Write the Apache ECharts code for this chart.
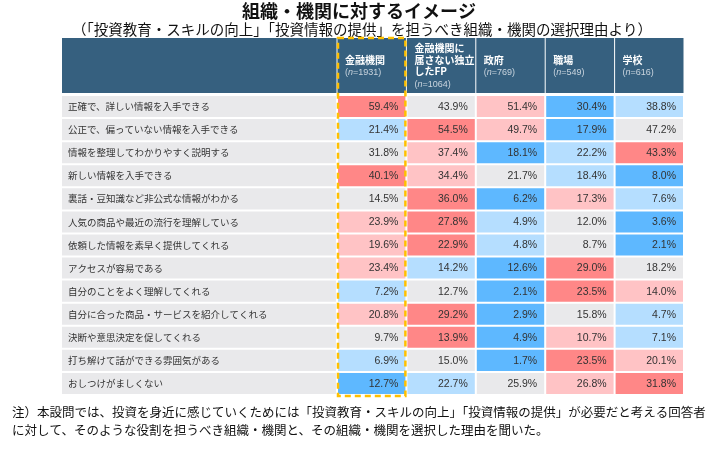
<!DOCTYPE html>
<html><head><meta charset="utf-8">
<script src="https://cdn.jsdelivr.net/npm/echarts@6/dist/echarts.min.js"></script>
<style>html,body{margin:0;padding:0;background:#fff}#c{width:718px;height:449px}</style>
</head><body><div id="c"></div>
<script>
// ---- data ----
const columns = ['金融機関', '金融機関に\n属さない独立\nしたFP', '政府', '職場', '学校'];
const sampleSizes = ['1931', '1064', '769', '549', '616'];
const reasons = [
  '正確で、詳しい情報を入手できる',
  '公正で、偏っていない情報を入手できる',
  '情報を整理してわかりやすく説明する',
  '新しい情報を入手できる',
  '裏話・豆知識など非公式な情報がわかる',
  '人気の商品や最近の流行を理解している',
  '依頼した情報を素早く提供してくれる',
  'アクセスが容易である',
  '自分のことをよく理解してくれる',
  '自分に合った商品・サービスを紹介してくれる',
  '決断や意思決定を促してくれる',
  '打ち解けて話ができる雰囲気がある',
  'おしつけがましくない'
];
const valKinyu   = [59.4, 21.4, 31.8, 40.1, 14.5, 23.9, 19.6, 23.4, 7.2, 20.8, 9.7, 6.9, 12.7];
const valFP      = [43.9, 54.5, 37.4, 34.4, 36.0, 27.8, 22.9, 14.2, 12.7, 29.2, 13.9, 15.0, 22.7];
const valSeifu   = [51.4, 49.7, 18.1, 21.7, 6.2, 4.9, 4.8, 12.6, 2.1, 2.9, 4.9, 1.7, 25.9];
const valShokuba = [30.4, 17.9, 22.2, 18.4, 17.3, 12.0, 8.7, 29.0, 23.5, 15.8, 10.7, 23.5, 26.8];
const valGakko   = [38.8, 47.2, 43.3, 8.0, 7.6, 3.6, 2.1, 18.2, 14.0, 4.7, 7.1, 20.1, 31.8];
// highlight level of each cell (2 = strong high, 1 = high, 0 = neutral, -1 = low, -2 = strong low)
const lvKinyu   = [2, -1, 0, 2, 0, 1, 1, 1, -1, 1, 0, -1, -2];
const lvFP      = [0, 2, 1, 1, 2, 2, 2, -1, 0, 2, 2, 0, -1];
const lvSeifu   = [1, 1, -2, 0, -2, -1, -1, -2, -2, -2, -2, -2, 0];
const lvShokuba = [-2, -2, -1, -1, 1, 0, 0, 2, 2, 0, 1, 2, 1];
const lvGakko   = [-1, 0, 2, -2, -1, -2, -2, 0, 1, -1, -1, 1, 2];

const allVals = [valKinyu, valFP, valSeifu, valShokuba, valGakko];
const allLvs = [lvKinyu, lvFP, lvSeifu, lvShokuba, lvGakko];
const levelColor = { '2': '#FF8787', '1': '#FFC3C5', '0': '#E9E9EB', '-1': '#B5DEFF', '-2': '#5EB8FF' };
const HEAD = '#36607F';
const JP = '"Noto Sans CJK JP", "Noto Sans", sans-serif';
const NUM = '"Liberation Sans", Arial, sans-serif';

const bodyData = [];
allVals.forEach((col, c) => col.forEach((v, r) => bodyData.push([c, r, v, allLvs[c][r]])));
const labelData = reasons.map((t, r) => [0, r]);
const headData = columns.map((t, c) => [c, 0]);

const chart = echarts.init(document.getElementById('c'), null, { renderer: 'canvas' });
const hiddenCat = (data, gi, inverse) => ({ type: 'category', data, gridIndex: gi, show: false, inverse: !!inverse });

chart.setOption({
  animation: false,
  backgroundColor: '#fff',
  grid: [
    { left: 337, top: 38, width: 347, height: 55 },   // header data cols
    { left: 62, top: 38, width: 275, height: 55 },    // header label col
    { left: 62, top: 95, width: 275, height: 300 },   // body labels
    { left: 337, top: 95, width: 347, height: 300 },  // body data
    { left: 337, top: 38, width: 347, height: 358 }   // dashed highlight
  ],
  xAxis: [
    hiddenCat(columns, 0), hiddenCat([''], 1), hiddenCat([''], 2), hiddenCat(columns, 3), hiddenCat(columns, 4)
  ],
  yAxis: [
    hiddenCat([''], 0), hiddenCat([''], 1), hiddenCat(reasons, 2, true), hiddenCat(reasons, 3, true), hiddenCat([''], 4)
  ],
  graphic: [
    { type: 'text', left: 'center', top: 2, style: { text: '組織・機関に対するイメージ', font: 'bold 18px ' + JP, fill: '#111' } },
    { type: 'text', left: 72, top: 22, style: { text: '（「投資教育・スキルの向上」「投資情報の提供」を担うべき組織・機関の選択理由より）', font: '14.5px ' + JP, fill: '#111' } },
    { type: 'text', left: 12, top: 406, style: { text: '注）本設問では、投資を身近に感じていくためには「投資教育・スキルの向上」「投資情報の提供」が必要だと考える回答者', font: '12.5px ' + JP, fill: '#111' } },
    { type: 'text', left: 12, top: 424, style: { text: 'に対して、そのような役割を担うべき組織・機関と、その組織・機関を選択した理由を聞いた。', font: '12.5px ' + JP, fill: '#111' } }
  ],
  series: [
    {
      type: 'custom', xAxisIndex: 0, yAxisIndex: 0, data: headData,
      renderItem(params, api) {
        const c = api.value(0);
        const p = api.coord([c, 0]); const s = api.size([1, 1]);
        const x0 = p[0] - s[0] / 2, y0 = p[1] - s[1] / 2;
        const name = columns[c].split('\n').map(l => '{b|' + l + '}').join('\n');
        return { type: 'group', children: [
          { type: 'rect', shape: { x: x0 + 0.5, y: y0, width: s[0] - 1, height: s[1] }, style: { fill: HEAD } },
          { type: 'text', style: {
              text: name + '\n{n|(}{i|n}{n|=' + sampleSizes[c] + ')}',
              x: x0 + 8, y: p[1] + 1.5, align: 'left', verticalAlign: 'middle',
              rich: {
                b: { font: 'bold 10px ' + JP, fill: '#fff', lineHeight: 11.5 },
                n: { font: '9px ' + NUM, fill: '#C9D4DE', lineHeight: 14 },
                i: { font: 'italic 9px ' + NUM, fill: '#C9D4DE', lineHeight: 14 }
              } } }
        ] };
      }
    },
    {
      type: 'custom', xAxisIndex: 1, yAxisIndex: 1, data: [[0, 0]],
      renderItem(params, api) {
        const p = api.coord([0, 0]); const s = api.size([1, 1]);
        return { type: 'rect', shape: { x: p[0] - s[0] / 2, y: p[1] - s[1] / 2, width: s[0] - 0.5, height: s[1] }, style: { fill: HEAD } };
      }
    },
    {
      type: 'custom', xAxisIndex: 2, yAxisIndex: 2, data: labelData,
      renderItem(params, api) {
        const r = api.value(1);
        const p = api.coord([0, r]); const s = api.size([1, 1]);
        const x0 = p[0] - s[0] / 2, y0 = p[1] - s[1] / 2;
        return { type: 'group', children: [
          { type: 'rect', shape: { x: x0, y: y0 + 1, width: s[0] - 1, height: s[1] - 2 }, style: { fill: '#E9E9EB' } },
          { type: 'text', style: { text: reasons[r], x: x0 + 6, y: p[1], align: 'left', verticalAlign: 'middle', font: '9.5px ' + JP, fill: '#333' } }
        ] };
      }
    },
    {
      type: 'custom', xAxisIndex: 3, yAxisIndex: 3, data: bodyData,
      renderItem(params, api) {
        const c = api.value(0), r = api.value(1), v = api.value(2), lv = api.value(3);
        const p = api.coord([c, r]); const s = api.size([1, 1]);
        const x0 = p[0] - s[0] / 2, y0 = p[1] - s[1] / 2;
        return { type: 'group', children: [
          { type: 'rect', shape: { x: x0 + 1, y: y0 + 1, width: s[0] - 2, height: s[1] - 2 }, style: { fill: levelColor[String(lv)] } },
          { type: 'text', style: { text: v.toFixed(1) + '%', x: x0 + s[0] - 8, y: p[1] + 0.5, align: 'right', verticalAlign: 'middle', font: '10.5px ' + NUM, fill: '#333' } }
        ] };
      }
    },
    {
      type: 'custom', xAxisIndex: 4, yAxisIndex: 4, data: [[0, 0]], z: 10,
      renderItem(params, api) {
        const p = api.coord([0, 0]); const s = api.size([1, 1]);
        return { type: 'rect', shape: { x: p[0] - s[0] / 2 + 1, y: p[1] - s[1] / 2, width: s[0] - 2, height: s[1] },
          style: { fill: 'none', stroke: '#FFC000', lineWidth: 2.5, lineDash: [6, 4] } };
      }
    }
  ]
});
</script>
</body></html>
